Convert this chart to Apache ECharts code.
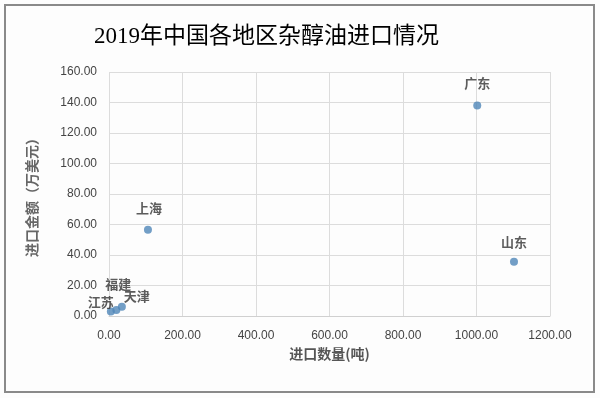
<!DOCTYPE html>
<html><head><meta charset="utf-8">
<script src="https://cdn.jsdelivr.net/npm/echarts@6/dist/echarts.min.js"></script>
<style>html,body{margin:0;padding:0;background:#fff}#c{width:600px;height:398px}</style>
</head><body><div id="c"></div>
<script>
const regions = ['江苏', '福建', '天津', '上海', '广东', '山东'];
const quantity = [5, 20, 35, 106, 1002, 1102];
const amount = [3, 4, 6, 56.5, 138, 35.6];
const xTicks = [0, 200, 400, 600, 800, 1000, 1200];
const yTicks = [0, 20, 40, 60, 80, 100, 120, 140, 160];
const labelOffsets = [[-10, -9], [2, -26], [15, -11], [1, -22], [0, -22], [0, -20]];

const chart = echarts.init(document.getElementById('c'));
const cjk = '"Noto Sans CJK SC", "Noto Sans", sans-serif';
chart.setOption({
  backgroundColor: '#fdfdfd',
  animation: false,
  title: {
    text: '2019年中国各地区杂醇油进口情况',
    left: 89, top: 20,
    textStyle: { fontFamily: '"Liberation Serif", "Noto Sans CJK SC", serif', fontSize: 23, fontWeight: 'normal', color: '#000' }
  },
  graphic: [{ type: 'rect', shape: { x: 5, y: 5, width: 589, height: 387 }, style: { fill: 'none', stroke: '#8a8a8a', lineWidth: 2 }, silent: true }],
  grid: { left: 109, right: 50, top: 72, bottom: 82 },
  xAxis: {
    type: 'value', min: 0, max: 1200, interval: 200,
    name: '进口数量(吨)', nameLocation: 'middle', nameGap: 29,
    nameTextStyle: { fontFamily: cjk, fontSize: 14, color: '#555', fontWeight: 'bold' },
    axisLine: { show: true, lineStyle: { color: '#d0d0d0' } },
    axisTick: { show: false },
    splitLine: { show: true, lineStyle: { color: '#dcdcdc' } },
    axisLabel: { fontFamily: '"Liberation Sans", sans-serif', fontSize: 12, color: '#444', margin: 14, formatter: v => v.toFixed(2) }
  },
  yAxis: {
    type: 'value', min: 0, max: 160, interval: 20,
    name: '进口金额（万美元）', nameLocation: 'middle', nameGap: 70, nameRotate: 90,
    nameTextStyle: { fontFamily: cjk, fontSize: 14, color: '#666', fontWeight: 'bold' },
    axisLine: { show: false },
    axisTick: { show: false },
    splitLine: { show: true, lineStyle: { color: '#dcdcdc' } },
    axisLabel: { fontFamily: '"Liberation Sans", sans-serif', fontSize: 12, color: '#444', margin: 12, formatter: v => v.toFixed(2) }
  },
  series: [{
    type: 'scatter',
    symbolSize: 8,
    itemStyle: { color: '#4f86b8' },
    data: regions.map((r, i) => ({
      name: r, value: [quantity[i], amount[i]],
      label: { show: true, position: 'inside', offset: labelOffsets[i], formatter: r,
        fontFamily: cjk, fontSize: 13, color: '#333', fontWeight: 'bold' }
    }))
  }]
});
</script></body></html>
